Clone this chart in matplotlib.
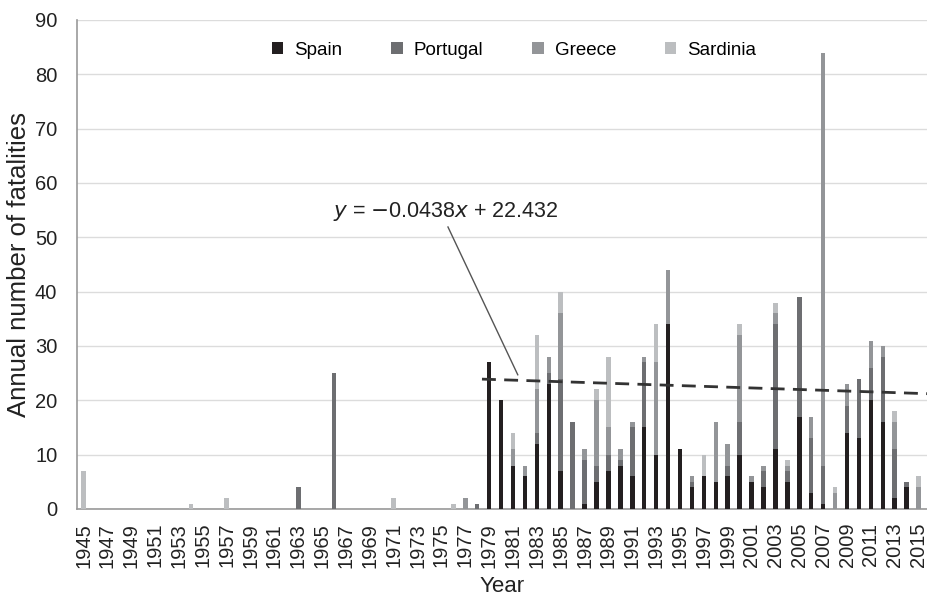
import numpy as np
import matplotlib
matplotlib.use("Agg")
import matplotlib.pyplot as plt

plt.rcParams['font.family'] = ['Liberation Sans', 'DejaVu Sans']

# Data
years = list(range(1945, 2016))

spain_pts = {1979: 27, 1980: 20, 1981: 8, 1982: 6, 1983: 12, 1984: 23, 1985: 7,
             1987: 1, 1988: 5, 1989: 7, 1990: 8, 1991: 6, 1992: 15, 1993: 10,
             1994: 34, 1995: 11, 1996: 4, 1997: 6, 1998: 5, 1999: 6, 2000: 10,
             2001: 5, 2002: 4, 2003: 11, 2004: 5, 2005: 17, 2006: 3, 2007: 1,
             2009: 14, 2010: 13, 2011: 20, 2012: 16, 2013: 2, 2014: 4}
portugal_pts = {1963: 4, 1966: 25, 1978: 1, 1983: 2, 1984: 2, 1985: 17, 1986: 16,
                1987: 8, 1988: 3, 1989: 3, 1990: 1, 1991: 9, 1992: 12, 1996: 1,
                1999: 2, 2000: 6, 2002: 3, 2003: 23, 2004: 2, 2005: 22, 2006: 10,
                2007: 7, 2009: 5, 2010: 11, 2011: 6, 2012: 12, 2013: 9, 2014: 1}
greece_pts = {1977: 2, 1981: 3, 1982: 2, 1983: 8, 1984: 3, 1985: 12, 1987: 2,
              1988: 12, 1989: 5, 1990: 2, 1991: 1, 1992: 1, 1993: 17, 1994: 10,
              1996: 1, 1998: 11, 1999: 4, 2000: 16, 2001: 1, 2002: 1, 2003: 2,
              2004: 1, 2006: 4, 2007: 76, 2008: 3, 2009: 4, 2011: 5, 2012: 2,
              2013: 5, 2015: 4}
sardinia_pts = {1945: 7, 1954: 1, 1957: 2, 1971: 2, 1976: 1, 1981: 3, 1983: 10,
                1985: 4, 1988: 2, 1989: 13, 1993: 7, 1997: 4, 2000: 2, 2003: 2,
                2004: 1, 2008: 1, 2013: 2, 2015: 2}

spain = np.array([spain_pts.get(y, 0) for y in years])
portugal = np.array([portugal_pts.get(y, 0) for y in years])
greece = np.array([greece_pts.get(y, 0) for y in years])
sardinia = np.array([sardinia_pts.get(y, 0) for y in years])

# Trend line and its label
trend_x = [1978.4, 2016]
trend_y = [23.9, 21.2]
eq_text = r"$y$ = $-$0.0438$x$ + 22.432"
eq_pos = (1975.4, 54.7)
leader_x = [1975.55, 1981.4]
leader_y = [51.9, 24.7]

colors = ['#231f20', '#6d6e71', '#939598', '#bcbec0']
labels = ['Spain', 'Portugal', 'Greece', 'Sardinia']

fig = plt.figure(figsize=(9.28, 5.96), dpi=100)
ax = fig.add_axes([0.0827, 0.146, 0.9173, 0.8205])

bottom = np.zeros(len(years))
for vals, c, lab in zip([spain, portugal, greece, sardinia], colors, labels):
    ax.bar(years, vals, width=0.38, bottom=bottom, color=c, label=lab, zorder=3)
    bottom += vals

ax.plot(trend_x, trend_y, color='#333333', linestyle=(0, (5, 3)), linewidth=2, zorder=4)
ax.plot(leader_x, leader_y, color='#555555', linewidth=1, zorder=4)
ax.text(eq_pos[0], eq_pos[1], eq_text, ha='center', va='center', fontsize=15.5,
        color='#222222')

ax.set_xlim(1944.43, 2015.79)
ax.set_ylim(0, 90)
ax.set_yticks(range(0, 91, 10))
ax.set_xticks(years[::2])
ax.set_xticklabels([str(y) for y in years[::2]], rotation=90)
ax.tick_params(axis='both', length=0, labelsize=14.5, colors='#222222')
ax.tick_params(axis='x', pad=10)
ax.tick_params(axis='y', pad=14)
ax.grid(axis='y', color='#dcdcdc', linewidth=1, zorder=0)

for s in ['top', 'right']:
    ax.spines[s].set_visible(False)
for s in ['left', 'bottom']:
    ax.spines[s].set_color('#999999')
    ax.spines[s].set_linewidth(1.2)

ax.set_xlabel('Year', fontsize=16, color='#222222', labelpad=6)
ax.set_ylabel('Annual number of fatalities', fontsize=18.5, color='#222222', labelpad=3)

leg = ax.legend(loc='upper center', bbox_to_anchor=(0.514, 0.99), ncol=4, frameon=False,
                fontsize=13.5, handlelength=0.6, handleheight=0.6, columnspacing=2.6,
                handletextpad=0.6)

fig.savefig('out.png', dpi=100)
